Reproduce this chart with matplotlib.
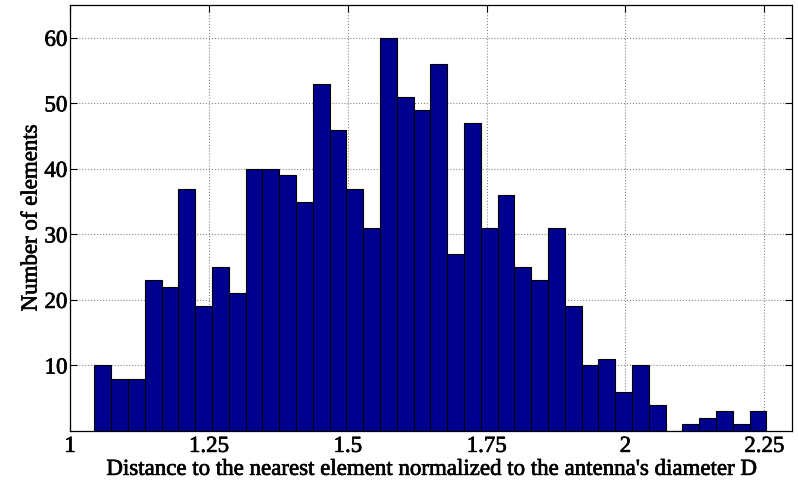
import numpy as np
import matplotlib.pyplot as plt
import matplotlib.patheffects as pe

# histogram of nearest-neighbour distance (40 bins)
bin_start = 1.044
bin_end = 2.254
counts = [10, 8, 8, 23, 22, 37, 19, 25, 21, 40,
          40, 39, 35, 53, 46, 37, 31, 60, 51, 49,
          56, 27, 47, 31, 36, 25, 23, 31, 19, 10,
          11, 6, 10, 4, 0, 1, 2, 3, 1, 3]
xticks = [1, 1.25, 1.5, 1.75, 2, 2.25]
xtick_labels = ['1', '1.25', '1.5', '1.75', '2', '2.25']
yticks = [10, 20, 30, 40, 50, 60]

plt.rcParams['font.family'] = ['Liberation Serif', 'DejaVu Serif']
# slightly heavier text strokes
heavy = [pe.withStroke(linewidth=0.5, foreground='black')]

edges = np.linspace(bin_start, bin_end, len(counts) + 1)
width = edges[1] - edges[0]

fig = plt.figure(figsize=(7.98, 4.82), dpi=100)
ax = fig.add_axes([0.0877, 0.1058, 0.9048, 0.8838])
ax.bar(edges[:-1], counts, width=width, align='edge',
       color='#00008f', edgecolor='black', linewidth=0.8, zorder=2)

ax.set_xlim(1, 2.3)
ax.set_ylim(0, 65)
ax.set_xticks(xticks)
ax.set_xticklabels(xtick_labels)
ax.set_yticks(yticks)
ax.tick_params(direction='in', top=True, right=True, labelsize=16.5, length=5, pad=2)
ax.tick_params(axis='x', pad=3.5)
ax.grid(True, linestyle=':', color='#888888', linewidth=0.8, zorder=0)
ax.set_axisbelow(True)
for s in ax.spines.values():
    s.set_linewidth(0.9)

xl = ax.set_xlabel("Distance to the nearest element normalized to the antenna's diameter D",
                   fontsize=16.5, va='center')
ax.xaxis.set_label_coords(0.5, -0.09)
yl = ax.set_ylabel('Number of elements', fontsize=16.5, labelpad=2)
for t in ax.get_xticklabels() + ax.get_yticklabels() + [xl, yl]:
    t.set_path_effects(heavy)

fig.savefig('out.png', dpi=100)
